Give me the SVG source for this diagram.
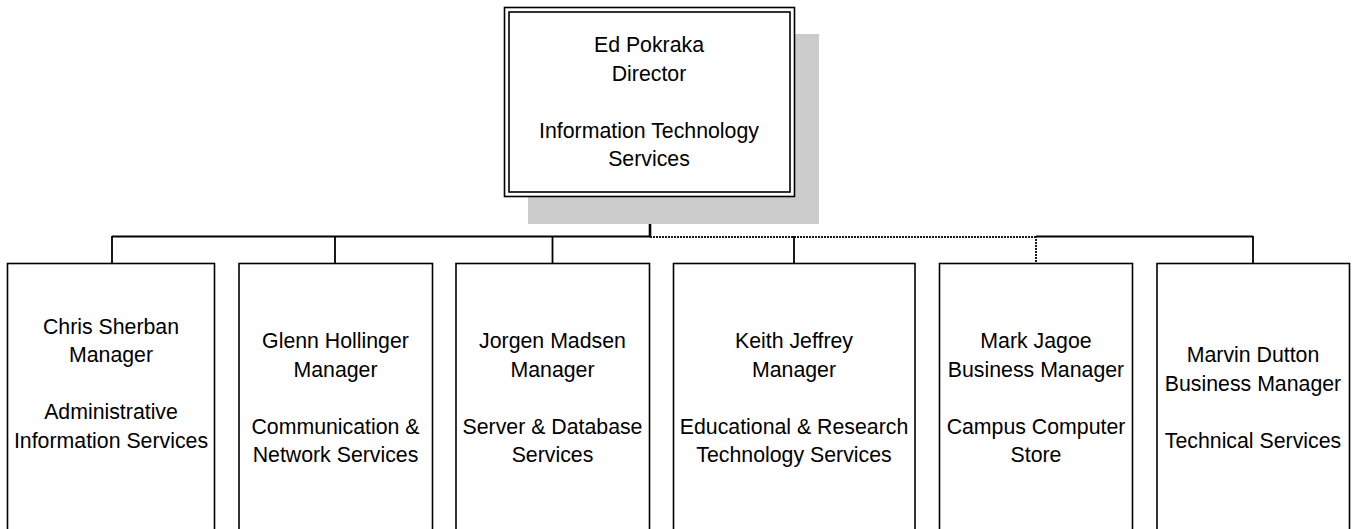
<svg xmlns="http://www.w3.org/2000/svg" width="1356" height="529" viewBox="0 0 1356 529">
  <style>
    .box { fill: #ffffff; stroke: #000000; stroke-width: 1.6; }
    .frame { fill: none; stroke: #000000; stroke-width: 1.6; }
    .shadow { fill: #cccccc; stroke: none; }
    .lbl { font-family: "Liberation Sans", Arial, sans-serif; font-size: 21.3px; fill: #000000; text-anchor: middle; }
    .line { fill: none; stroke: #000000; stroke-width: 1.8; }
    .trunk { fill: none; stroke: #000000; stroke-width: 2.6; }
    .dotted { fill: none; stroke: #1a1a1a; stroke-width: 2; stroke-dasharray: 2 1; }
  </style>

  <rect width="1356" height="529" fill="#ffffff"/>

  <!-- reporting lines -->
  <g id="connectors">
    <line class="trunk" x1="650" y1="196" x2="650" y2="237"/>
    <line class="line" x1="112" y1="236.5" x2="650" y2="236.5"/>
    <line class="dotted" x1="650" y1="237" x2="1036" y2="237"/>
    <line class="line" x1="1036" y1="236.5" x2="1253" y2="236.5"/>
    <line class="line" x1="112" y1="236" x2="112" y2="264"/>
    <line class="line" x1="335" y1="236" x2="335" y2="264"/>
    <line class="line" x1="552.5" y1="236" x2="552.5" y2="264"/>
    <line class="line" x1="794" y1="236" x2="794" y2="264"/>
    <line class="dotted" x1="1036" y1="236" x2="1036" y2="264"/>
    <line class="line" x1="1253" y1="236" x2="1253" y2="264"/>
  </g>

  <!-- director -->
  <g id="node-director">
    <rect class="shadow" x="528" y="34" width="291" height="190"/>
    <rect class="box" x="504.5" y="7.5" width="290" height="189"/>
    <rect class="frame" x="509" y="12" width="281" height="180"/>
    <text class="lbl" x="649" y="52">Ed Pokraka</text>
    <text class="lbl" x="649" y="80.5">Director</text>
    <text class="lbl" x="649" y="137.5">Information Technology</text>
    <text class="lbl" x="649" y="166">Services</text>
  </g>

  <g id="node-sherban">
    <rect class="box" x="7.5" y="263.5" width="207" height="280"/>
    <text class="lbl" x="111" y="333.5">Chris Sherban</text>
    <text class="lbl" x="111" y="362">Manager</text>
    <text class="lbl" x="111" y="419">Administrative</text>
    <text class="lbl" x="111" y="447.5">Information Services</text>
  </g>

  <g id="node-hollinger">
    <rect class="box" x="239" y="263.5" width="193.5" height="280"/>
    <text class="lbl" x="335.5" y="348">Glenn Hollinger</text>
    <text class="lbl" x="335.5" y="376.5">Manager</text>
    <text class="lbl" x="335.5" y="433.5">Communication &amp;</text>
    <text class="lbl" x="335.5" y="462">Network Services</text>
  </g>

  <g id="node-madsen">
    <rect class="box" x="456" y="263.5" width="193.5" height="280"/>
    <text class="lbl" x="552.5" y="348">Jorgen Madsen</text>
    <text class="lbl" x="552.5" y="376.5">Manager</text>
    <text class="lbl" x="552.5" y="433.5">Server &amp; Database</text>
    <text class="lbl" x="552.5" y="462">Services</text>
  </g>

  <g id="node-jeffrey">
    <rect class="box" x="673.5" y="263.5" width="241.5" height="280"/>
    <text class="lbl" x="794" y="348">Keith Jeffrey</text>
    <text class="lbl" x="794" y="376.5">Manager</text>
    <text class="lbl" x="794" y="433.5">Educational &amp; Research</text>
    <text class="lbl" x="794" y="462">Technology Services</text>
  </g>

  <g id="node-jagoe">
    <rect class="box" x="939.5" y="263.5" width="193" height="280"/>
    <text class="lbl" x="1036" y="348">Mark Jagoe</text>
    <text class="lbl" x="1036" y="376.5">Business Manager</text>
    <text class="lbl" x="1036" y="433.5">Campus Computer</text>
    <text class="lbl" x="1036" y="462">Store</text>
  </g>

  <g id="node-dutton">
    <rect class="box" x="1157" y="263.5" width="192.5" height="280"/>
    <text class="lbl" x="1253" y="362">Marvin Dutton</text>
    <text class="lbl" x="1253" y="390.5">Business Manager</text>
    <text class="lbl" x="1253" y="447.5">Technical Services</text>
  </g>
</svg>
